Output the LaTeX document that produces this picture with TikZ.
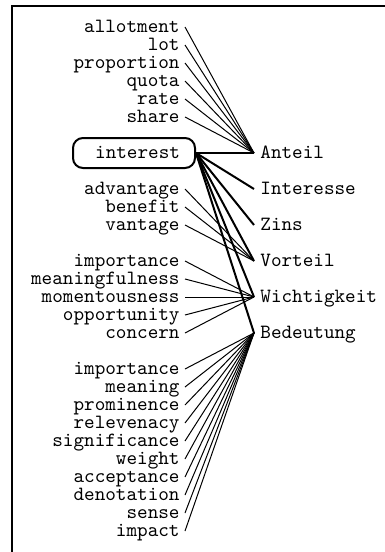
\documentclass[tikz,border=0pt]{standalone}
\usepackage{fontspec}
\begin{document}
\begin{tikzpicture}[x=0.5pt,y=-0.5pt,
  every node/.style={font=\ttfamily\fontsize{10.1}{11}\selectfont, inner ysep=0pt, text height=1.5ex, text depth=0.25ex},
  lw/.style={anchor=east, inner xsep=2.5pt},
  rw/.style={anchor=west, inner xsep=3pt},
  thin/.style={line width=0.5pt},
  thick/.style={line width=1pt},
  ibox/.style={draw, line width=1pt, rounded corners=5pt, text width=46pt, align=right, inner xsep=7.5pt, minimum height=15pt}]
\path[use as bounding box] (0,0) rectangle (385,552);
\clip (0,0) rectangle (385,552);
\draw[line width=1pt] (12,6) rectangle (420,600);
% right column
\node[rw] (anteil) at (254,153) {Anteil};
\node[rw] (interesse) at (254,189) {Interesse};
\node[rw] (zins) at (254,225) {Zins};
\node[rw] (vorteil) at (254,261) {Vorteil};
\node[rw] (wichtigkeit) at (254,297) {Wichtigkeit};
\node[rw] (bedeutung) at (254,333) {Bedeutung};
% interest
\node[ibox] (interest) at (134,153) {interest};
% left column
\foreach \t/\y/\n in {allotment/27/a1,lot/45/a2,proportion/63/a3,quota/81/a4,rate/99/a5,share/117/a6}{
  \node[lw] (\n) at (185,\y) {\t};
  \draw[thin] (\n.east) -- (anteil.west);
}
\foreach \t/\y/\n in {advantage/189/v1,benefit/207/v2,vantage/225/v3}{
  \node[lw] (\n) at (185,\y) {\t};
  \draw[thin] (\n.east) -- (vorteil.west);
}
\foreach \t/\y/\n in {importance/261/w1,meaningfulness/279/w2,momentousness/297/w3,opportunity/315/w4,concern/333/w5}{
  \node[lw] (\n) at (185,\y) {\t};
  \draw[thin] (\n.east) -- (wichtigkeit.west);
}
\foreach \t/\y/\n in {importance/369/b1,meaning/387/b2,prominence/405/b3,relevenacy/423/b4,significance/441/b5,weight/459/b6,acceptance/477/b7,denotation/495/b8,sense/513/b9,impact/531/b10}{
  \node[lw] (\n) at (185,\y) {\t};
  \draw[thin] (\n.east) -- (bedeutung.west);
}
\foreach \r in {anteil,interesse,zins,vorteil,wichtigkeit,bedeutung}{
  \draw[thick] (interest.east) -- (\r.west);
}
\end{tikzpicture}
\end{document}
